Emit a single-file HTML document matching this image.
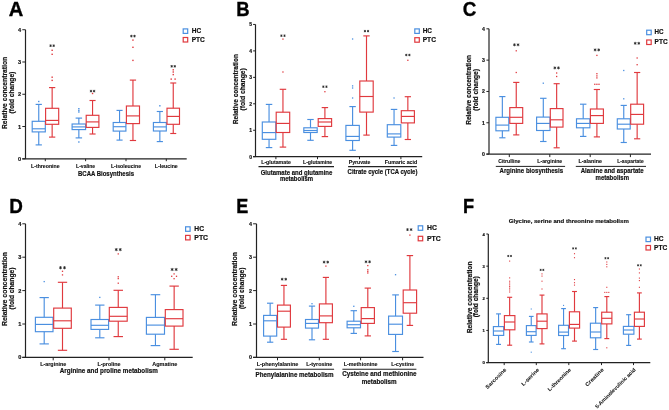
<!DOCTYPE html>
<html><head><meta charset="utf-8"><style>
html,body{margin:0;padding:0;background:#fff;}
svg{display:block;font-family:"Liberation Sans", sans-serif;will-change:transform;}
</style></head><body>
<svg width="669" height="410" viewBox="0 0 669 410">
<rect width="669" height="410" fill="#fff"/>
<text transform="translate(8.70 15.70) scale(0.988 1)" font-size="20.4" font-weight="bold" fill="#000" stroke="#000" stroke-width="0.35">A</text>
<line x1="25.50" y1="29.72" x2="25.50" y2="158.80" stroke="#222" stroke-width="1.2"/>
<line x1="22.30" y1="158.80" x2="25.50" y2="158.80" stroke="#222" stroke-width="1.0"/>
<text x="21.20" y="160.82" font-size="5.6" font-weight="bold" text-anchor="end" fill="#111" stroke="#111" stroke-width="0.18">0</text>
<line x1="22.30" y1="126.53" x2="25.50" y2="126.53" stroke="#222" stroke-width="1.0"/>
<text x="21.20" y="128.55" font-size="5.6" font-weight="bold" text-anchor="end" fill="#111" stroke="#111" stroke-width="0.18">1</text>
<line x1="22.30" y1="94.26" x2="25.50" y2="94.26" stroke="#222" stroke-width="1.0"/>
<text x="21.20" y="96.28" font-size="5.6" font-weight="bold" text-anchor="end" fill="#111" stroke="#111" stroke-width="0.18">2</text>
<line x1="22.30" y1="61.99" x2="25.50" y2="61.99" stroke="#222" stroke-width="1.0"/>
<text x="21.20" y="64.01" font-size="5.6" font-weight="bold" text-anchor="end" fill="#111" stroke="#111" stroke-width="0.18">3</text>
<line x1="22.30" y1="29.72" x2="25.50" y2="29.72" stroke="#222" stroke-width="1.0"/>
<text x="21.20" y="31.74" font-size="5.6" font-weight="bold" text-anchor="end" fill="#111" stroke="#111" stroke-width="0.18">4</text>
<line x1="22.30" y1="158.80" x2="186.70" y2="158.80" stroke="#222" stroke-width="1.2"/>
<line x1="45.30" y1="158.80" x2="45.30" y2="161.20" stroke="#222" stroke-width="1.0"/>
<line x1="85.60" y1="158.80" x2="85.60" y2="161.20" stroke="#222" stroke-width="1.0"/>
<line x1="126.00" y1="158.80" x2="126.00" y2="161.20" stroke="#222" stroke-width="1.0"/>
<line x1="166.30" y1="158.80" x2="166.30" y2="161.20" stroke="#222" stroke-width="1.0"/>
<line x1="38.75" y1="104.40" x2="38.75" y2="121.30" stroke="#4a8fe0" stroke-width="1.15"/>
<line x1="38.75" y1="131.90" x2="38.75" y2="144.90" stroke="#4a8fe0" stroke-width="1.15"/>
<line x1="35.61" y1="104.40" x2="41.89" y2="104.40" stroke="#4a8fe0" stroke-width="1.15"/>
<line x1="35.61" y1="144.90" x2="41.89" y2="144.90" stroke="#4a8fe0" stroke-width="1.15"/>
<rect x="32.20" y="121.30" width="13.10" height="10.60" fill="none" stroke="#4a8fe0" stroke-width="1.15"/>
<line x1="32.20" y1="128.80" x2="45.30" y2="128.80" stroke="#4a8fe0" stroke-width="1.15"/>
<rect x="38.05" y="100.80" width="1.40" height="1.40" fill="#4a8fe0"/>
<line x1="52.15" y1="87.60" x2="52.15" y2="108.30" stroke="#e0393e" stroke-width="1.15"/>
<line x1="52.15" y1="124.30" x2="52.15" y2="137.10" stroke="#e0393e" stroke-width="1.15"/>
<line x1="49.01" y1="87.60" x2="55.29" y2="87.60" stroke="#e0393e" stroke-width="1.15"/>
<line x1="49.01" y1="137.10" x2="55.29" y2="137.10" stroke="#e0393e" stroke-width="1.15"/>
<rect x="45.60" y="108.30" width="13.10" height="16.00" fill="none" stroke="#e0393e" stroke-width="1.15"/>
<line x1="45.60" y1="120.40" x2="58.70" y2="120.40" stroke="#e0393e" stroke-width="1.15"/>
<rect x="51.45" y="49.60" width="1.40" height="1.40" fill="#e0393e"/>
<rect x="51.45" y="53.60" width="1.40" height="1.40" fill="#e0393e"/>
<rect x="51.45" y="76.50" width="1.40" height="1.40" fill="#e0393e"/>
<rect x="51.45" y="79.70" width="1.40" height="1.40" fill="#e0393e"/>
<line x1="50.60" y1="44.40" x2="50.60" y2="47.00" stroke="#222" stroke-width="0.75"/>
<line x1="49.47" y1="45.05" x2="51.73" y2="46.35" stroke="#222" stroke-width="0.75"/>
<line x1="51.73" y1="45.05" x2="49.47" y2="46.35" stroke="#222" stroke-width="0.75"/>
<line x1="53.70" y1="44.40" x2="53.70" y2="47.00" stroke="#222" stroke-width="0.75"/>
<line x1="52.57" y1="45.05" x2="54.83" y2="46.35" stroke="#222" stroke-width="0.75"/>
<line x1="54.83" y1="45.05" x2="52.57" y2="46.35" stroke="#222" stroke-width="0.75"/>
<line x1="78.85" y1="118.10" x2="78.85" y2="124.00" stroke="#4a8fe0" stroke-width="1.15"/>
<line x1="78.85" y1="129.60" x2="78.85" y2="137.90" stroke="#4a8fe0" stroke-width="1.15"/>
<line x1="75.61" y1="118.10" x2="82.09" y2="118.10" stroke="#4a8fe0" stroke-width="1.15"/>
<line x1="75.61" y1="137.90" x2="82.09" y2="137.90" stroke="#4a8fe0" stroke-width="1.15"/>
<rect x="72.10" y="124.00" width="13.50" height="5.60" fill="none" stroke="#4a8fe0" stroke-width="1.15"/>
<line x1="72.10" y1="126.90" x2="85.60" y2="126.90" stroke="#4a8fe0" stroke-width="1.15"/>
<rect x="78.15" y="108.00" width="1.40" height="1.40" fill="#4a8fe0"/>
<rect x="78.15" y="109.80" width="1.40" height="1.40" fill="#4a8fe0"/>
<rect x="78.15" y="111.30" width="1.40" height="1.40" fill="#4a8fe0"/>
<rect x="78.15" y="141.30" width="1.40" height="1.40" fill="#4a8fe0"/>
<line x1="92.55" y1="100.50" x2="92.55" y2="115.30" stroke="#e0393e" stroke-width="1.15"/>
<line x1="92.55" y1="127.40" x2="92.55" y2="134.00" stroke="#e0393e" stroke-width="1.15"/>
<line x1="89.50" y1="100.50" x2="95.60" y2="100.50" stroke="#e0393e" stroke-width="1.15"/>
<line x1="89.50" y1="134.00" x2="95.60" y2="134.00" stroke="#e0393e" stroke-width="1.15"/>
<rect x="86.20" y="115.30" width="12.70" height="12.10" fill="none" stroke="#e0393e" stroke-width="1.15"/>
<line x1="86.20" y1="121.90" x2="98.90" y2="121.90" stroke="#e0393e" stroke-width="1.15"/>
<rect x="91.85" y="92.80" width="1.40" height="1.40" fill="#e0393e"/>
<line x1="91.00" y1="89.80" x2="91.00" y2="92.40" stroke="#222" stroke-width="0.75"/>
<line x1="89.87" y1="90.45" x2="92.13" y2="91.75" stroke="#222" stroke-width="0.75"/>
<line x1="92.13" y1="90.45" x2="89.87" y2="91.75" stroke="#222" stroke-width="0.75"/>
<line x1="94.10" y1="89.80" x2="94.10" y2="92.40" stroke="#222" stroke-width="0.75"/>
<line x1="92.97" y1="90.45" x2="95.23" y2="91.75" stroke="#222" stroke-width="0.75"/>
<line x1="95.23" y1="90.45" x2="92.97" y2="91.75" stroke="#222" stroke-width="0.75"/>
<line x1="119.55" y1="110.40" x2="119.55" y2="122.50" stroke="#4a8fe0" stroke-width="1.15"/>
<line x1="119.55" y1="131.10" x2="119.55" y2="140.10" stroke="#4a8fe0" stroke-width="1.15"/>
<line x1="116.50" y1="110.40" x2="122.60" y2="110.40" stroke="#4a8fe0" stroke-width="1.15"/>
<line x1="116.50" y1="140.10" x2="122.60" y2="140.10" stroke="#4a8fe0" stroke-width="1.15"/>
<rect x="113.20" y="122.50" width="12.70" height="8.60" fill="none" stroke="#4a8fe0" stroke-width="1.15"/>
<line x1="113.20" y1="126.70" x2="125.90" y2="126.70" stroke="#4a8fe0" stroke-width="1.15"/>
<line x1="132.95" y1="80.10" x2="132.95" y2="106.00" stroke="#e0393e" stroke-width="1.15"/>
<line x1="132.95" y1="123.60" x2="132.95" y2="140.50" stroke="#e0393e" stroke-width="1.15"/>
<line x1="129.81" y1="80.10" x2="136.09" y2="80.10" stroke="#e0393e" stroke-width="1.15"/>
<line x1="129.81" y1="140.50" x2="136.09" y2="140.50" stroke="#e0393e" stroke-width="1.15"/>
<rect x="126.40" y="106.00" width="13.10" height="17.60" fill="none" stroke="#e0393e" stroke-width="1.15"/>
<line x1="126.40" y1="115.90" x2="139.50" y2="115.90" stroke="#e0393e" stroke-width="1.15"/>
<rect x="132.25" y="39.40" width="1.40" height="1.40" fill="#e0393e"/>
<rect x="132.25" y="46.60" width="1.40" height="1.40" fill="#e0393e"/>
<rect x="132.25" y="59.70" width="1.40" height="1.40" fill="#e0393e"/>
<line x1="131.40" y1="34.80" x2="131.40" y2="37.40" stroke="#222" stroke-width="0.75"/>
<line x1="130.27" y1="35.45" x2="132.53" y2="36.75" stroke="#222" stroke-width="0.75"/>
<line x1="132.53" y1="35.45" x2="130.27" y2="36.75" stroke="#222" stroke-width="0.75"/>
<line x1="134.50" y1="34.80" x2="134.50" y2="37.40" stroke="#222" stroke-width="0.75"/>
<line x1="133.37" y1="35.45" x2="135.63" y2="36.75" stroke="#222" stroke-width="0.75"/>
<line x1="135.63" y1="35.45" x2="133.37" y2="36.75" stroke="#222" stroke-width="0.75"/>
<line x1="159.85" y1="111.50" x2="159.85" y2="122.50" stroke="#4a8fe0" stroke-width="1.15"/>
<line x1="159.85" y1="131.00" x2="159.85" y2="141.60" stroke="#4a8fe0" stroke-width="1.15"/>
<line x1="156.75" y1="111.50" x2="162.95" y2="111.50" stroke="#4a8fe0" stroke-width="1.15"/>
<line x1="156.75" y1="141.60" x2="162.95" y2="141.60" stroke="#4a8fe0" stroke-width="1.15"/>
<rect x="153.40" y="122.50" width="12.90" height="8.50" fill="none" stroke="#4a8fe0" stroke-width="1.15"/>
<line x1="153.40" y1="126.90" x2="166.30" y2="126.90" stroke="#4a8fe0" stroke-width="1.15"/>
<rect x="159.15" y="105.10" width="1.40" height="1.40" fill="#4a8fe0"/>
<line x1="173.25" y1="83.00" x2="173.25" y2="108.20" stroke="#e0393e" stroke-width="1.15"/>
<line x1="173.25" y1="124.30" x2="173.25" y2="133.50" stroke="#e0393e" stroke-width="1.15"/>
<line x1="170.25" y1="83.00" x2="176.25" y2="83.00" stroke="#e0393e" stroke-width="1.15"/>
<line x1="170.25" y1="133.50" x2="176.25" y2="133.50" stroke="#e0393e" stroke-width="1.15"/>
<rect x="167.00" y="108.20" width="12.50" height="16.10" fill="none" stroke="#e0393e" stroke-width="1.15"/>
<line x1="167.00" y1="116.40" x2="179.50" y2="116.40" stroke="#e0393e" stroke-width="1.15"/>
<rect x="172.55" y="69.10" width="1.40" height="1.40" fill="#e0393e"/>
<rect x="172.55" y="71.30" width="1.40" height="1.40" fill="#e0393e"/>
<rect x="172.55" y="73.90" width="1.40" height="1.40" fill="#e0393e"/>
<rect x="170.50" y="78.40" width="1.40" height="1.40" fill="#e0393e"/>
<rect x="174.40" y="78.40" width="1.40" height="1.40" fill="#e0393e"/>
<line x1="171.70" y1="65.00" x2="171.70" y2="67.60" stroke="#222" stroke-width="0.75"/>
<line x1="170.57" y1="65.65" x2="172.83" y2="66.95" stroke="#222" stroke-width="0.75"/>
<line x1="172.83" y1="65.65" x2="170.57" y2="66.95" stroke="#222" stroke-width="0.75"/>
<line x1="174.80" y1="65.00" x2="174.80" y2="67.60" stroke="#222" stroke-width="0.75"/>
<line x1="173.67" y1="65.65" x2="175.93" y2="66.95" stroke="#222" stroke-width="0.75"/>
<line x1="175.93" y1="65.65" x2="173.67" y2="66.95" stroke="#222" stroke-width="0.75"/>
<rect x="183.20" y="28.90" width="4.50" height="4.50" fill="none" stroke="#4a8fe0" stroke-width="1.2"/>
<rect x="183.20" y="37.50" width="4.50" height="4.50" fill="none" stroke="#e0393e" stroke-width="1.2"/>
<text x="191.70" y="32.80" font-size="6.6" font-weight="bold" text-anchor="start" fill="#111" textLength="9.40" lengthAdjust="spacingAndGlyphs" stroke="#111" stroke-width="0.18">HC</text>
<text x="191.70" y="41.50" font-size="6.6" font-weight="bold" text-anchor="start" fill="#111" textLength="13.20" lengthAdjust="spacingAndGlyphs" stroke="#111" stroke-width="0.18">PTC</text>
<text x="45.30" y="167.60" font-size="5.6" font-weight="bold" text-anchor="middle" fill="#111" textLength="28.50" lengthAdjust="spacingAndGlyphs" stroke="#111" stroke-width="0.12">L-threonine</text>
<text x="85.60" y="167.60" font-size="5.6" font-weight="bold" text-anchor="middle" fill="#111" textLength="19.10" lengthAdjust="spacingAndGlyphs" stroke="#111" stroke-width="0.12">L-valine</text>
<text x="126.00" y="167.60" font-size="5.6" font-weight="bold" text-anchor="middle" fill="#111" textLength="30.20" lengthAdjust="spacingAndGlyphs" stroke="#111" stroke-width="0.12">L-isoleucine</text>
<text x="166.30" y="167.60" font-size="5.6" font-weight="bold" text-anchor="middle" fill="#111" textLength="22.90" lengthAdjust="spacingAndGlyphs" stroke="#111" stroke-width="0.12">L-leucine</text>
<text x="106.00" y="176.00" font-size="6.7" font-weight="bold" text-anchor="middle" fill="#111" textLength="56.00" lengthAdjust="spacingAndGlyphs" stroke="#111" stroke-width="0.18">BCAA Biosynthesis</text>
<text x="7.00" y="92.95" font-size="6.5" font-weight="bold" text-anchor="middle" fill="#111" textLength="72.10" lengthAdjust="spacingAndGlyphs" transform="rotate(-90 7.00 92.95)" stroke="#111" stroke-width="0.18">Relative concentration</text>
<text x="14.50" y="92.55" font-size="6.5" font-weight="bold" text-anchor="middle" fill="#111" textLength="41.70" lengthAdjust="spacingAndGlyphs" transform="rotate(-90 14.50 92.55)" stroke="#111" stroke-width="0.18">(fold change)</text>
<text transform="translate(236.20 15.70) scale(0.908 1)" font-size="20.4" font-weight="bold" fill="#000" stroke="#000" stroke-width="0.35">B</text>
<line x1="255.50" y1="24.45" x2="255.50" y2="156.70" stroke="#222" stroke-width="1.2"/>
<line x1="253.10" y1="156.70" x2="255.50" y2="156.70" stroke="#222" stroke-width="1.0"/>
<text x="252.10" y="158.50" font-size="5.0" font-weight="bold" text-anchor="end" fill="#111" stroke="#111" stroke-width="0.18">0</text>
<line x1="253.10" y1="130.25" x2="255.50" y2="130.25" stroke="#222" stroke-width="1.0"/>
<text x="252.10" y="132.05" font-size="5.0" font-weight="bold" text-anchor="end" fill="#111" stroke="#111" stroke-width="0.18">1</text>
<line x1="253.10" y1="103.80" x2="255.50" y2="103.80" stroke="#222" stroke-width="1.0"/>
<text x="252.10" y="105.60" font-size="5.0" font-weight="bold" text-anchor="end" fill="#111" stroke="#111" stroke-width="0.18">2</text>
<line x1="253.10" y1="77.35" x2="255.50" y2="77.35" stroke="#222" stroke-width="1.0"/>
<text x="252.10" y="79.15" font-size="5.0" font-weight="bold" text-anchor="end" fill="#111" stroke="#111" stroke-width="0.18">3</text>
<line x1="253.10" y1="50.90" x2="255.50" y2="50.90" stroke="#222" stroke-width="1.0"/>
<text x="252.10" y="52.70" font-size="5.0" font-weight="bold" text-anchor="end" fill="#111" stroke="#111" stroke-width="0.18">4</text>
<line x1="253.10" y1="24.45" x2="255.50" y2="24.45" stroke="#222" stroke-width="1.0"/>
<text x="252.10" y="26.25" font-size="5.0" font-weight="bold" text-anchor="end" fill="#111" stroke="#111" stroke-width="0.18">5</text>
<line x1="253.10" y1="156.70" x2="422.20" y2="156.70" stroke="#222" stroke-width="1.2"/>
<line x1="275.90" y1="156.70" x2="275.90" y2="159.20" stroke="#222" stroke-width="1.0"/>
<line x1="317.50" y1="156.70" x2="317.50" y2="159.20" stroke="#222" stroke-width="1.0"/>
<line x1="359.50" y1="156.70" x2="359.50" y2="159.20" stroke="#222" stroke-width="1.0"/>
<line x1="400.90" y1="156.70" x2="400.90" y2="159.20" stroke="#222" stroke-width="1.0"/>
<line x1="269.05" y1="104.40" x2="269.05" y2="122.00" stroke="#4a8fe0" stroke-width="1.15"/>
<line x1="269.05" y1="139.30" x2="269.05" y2="147.60" stroke="#4a8fe0" stroke-width="1.15"/>
<line x1="265.81" y1="104.40" x2="272.29" y2="104.40" stroke="#4a8fe0" stroke-width="1.15"/>
<line x1="265.81" y1="147.60" x2="272.29" y2="147.60" stroke="#4a8fe0" stroke-width="1.15"/>
<rect x="262.30" y="122.00" width="13.50" height="17.30" fill="none" stroke="#4a8fe0" stroke-width="1.15"/>
<line x1="262.30" y1="132.60" x2="275.80" y2="132.60" stroke="#4a8fe0" stroke-width="1.15"/>
<line x1="282.95" y1="89.30" x2="282.95" y2="112.20" stroke="#e0393e" stroke-width="1.15"/>
<line x1="282.95" y1="132.50" x2="282.95" y2="147.10" stroke="#e0393e" stroke-width="1.15"/>
<line x1="279.71" y1="89.30" x2="286.19" y2="89.30" stroke="#e0393e" stroke-width="1.15"/>
<line x1="279.71" y1="147.10" x2="286.19" y2="147.10" stroke="#e0393e" stroke-width="1.15"/>
<rect x="276.20" y="112.20" width="13.50" height="20.30" fill="none" stroke="#e0393e" stroke-width="1.15"/>
<line x1="276.20" y1="123.40" x2="289.70" y2="123.40" stroke="#e0393e" stroke-width="1.15"/>
<rect x="282.30" y="38.45" width="1.30" height="1.30" fill="#e0393e"/>
<rect x="282.30" y="71.35" width="1.30" height="1.30" fill="#e0393e"/>
<line x1="281.40" y1="34.50" x2="281.40" y2="36.90" stroke="#222" stroke-width="0.75"/>
<line x1="280.36" y1="35.10" x2="282.44" y2="36.30" stroke="#222" stroke-width="0.75"/>
<line x1="282.44" y1="35.10" x2="280.36" y2="36.30" stroke="#222" stroke-width="0.75"/>
<line x1="284.50" y1="34.50" x2="284.50" y2="36.90" stroke="#222" stroke-width="0.75"/>
<line x1="283.46" y1="35.10" x2="285.54" y2="36.30" stroke="#222" stroke-width="0.75"/>
<line x1="285.54" y1="35.10" x2="283.46" y2="36.30" stroke="#222" stroke-width="0.75"/>
<line x1="310.50" y1="119.50" x2="310.50" y2="127.80" stroke="#4a8fe0" stroke-width="1.15"/>
<line x1="310.50" y1="132.50" x2="310.50" y2="140.30" stroke="#4a8fe0" stroke-width="1.15"/>
<line x1="307.28" y1="119.50" x2="313.72" y2="119.50" stroke="#4a8fe0" stroke-width="1.15"/>
<line x1="307.28" y1="140.30" x2="313.72" y2="140.30" stroke="#4a8fe0" stroke-width="1.15"/>
<rect x="303.80" y="127.80" width="13.40" height="4.70" fill="none" stroke="#4a8fe0" stroke-width="1.15"/>
<line x1="303.80" y1="130.50" x2="317.20" y2="130.50" stroke="#4a8fe0" stroke-width="1.15"/>
<line x1="324.90" y1="107.60" x2="324.90" y2="118.60" stroke="#e0393e" stroke-width="1.15"/>
<line x1="324.90" y1="126.40" x2="324.90" y2="136.60" stroke="#e0393e" stroke-width="1.15"/>
<line x1="321.68" y1="107.60" x2="328.12" y2="107.60" stroke="#e0393e" stroke-width="1.15"/>
<line x1="321.68" y1="136.60" x2="328.12" y2="136.60" stroke="#e0393e" stroke-width="1.15"/>
<rect x="318.20" y="118.60" width="13.40" height="7.80" fill="none" stroke="#e0393e" stroke-width="1.15"/>
<line x1="318.20" y1="122.00" x2="331.60" y2="122.00" stroke="#e0393e" stroke-width="1.15"/>
<rect x="324.25" y="91.05" width="1.30" height="1.30" fill="#e0393e"/>
<line x1="323.35" y1="85.50" x2="323.35" y2="87.90" stroke="#222" stroke-width="0.75"/>
<line x1="322.31" y1="86.10" x2="324.39" y2="87.30" stroke="#222" stroke-width="0.75"/>
<line x1="324.39" y1="86.10" x2="322.31" y2="87.30" stroke="#222" stroke-width="0.75"/>
<line x1="326.45" y1="85.50" x2="326.45" y2="87.90" stroke="#222" stroke-width="0.75"/>
<line x1="325.41" y1="86.10" x2="327.49" y2="87.30" stroke="#222" stroke-width="0.75"/>
<line x1="327.49" y1="86.10" x2="325.41" y2="87.30" stroke="#222" stroke-width="0.75"/>
<line x1="352.60" y1="106.60" x2="352.60" y2="125.40" stroke="#4a8fe0" stroke-width="1.15"/>
<line x1="352.60" y1="140.50" x2="352.60" y2="150.30" stroke="#4a8fe0" stroke-width="1.15"/>
<line x1="349.38" y1="106.60" x2="355.82" y2="106.60" stroke="#4a8fe0" stroke-width="1.15"/>
<line x1="349.38" y1="150.30" x2="355.82" y2="150.30" stroke="#4a8fe0" stroke-width="1.15"/>
<rect x="345.90" y="125.40" width="13.40" height="15.10" fill="none" stroke="#4a8fe0" stroke-width="1.15"/>
<line x1="345.90" y1="136.40" x2="359.30" y2="136.40" stroke="#4a8fe0" stroke-width="1.15"/>
<rect x="351.95" y="38.35" width="1.30" height="1.30" fill="#4a8fe0"/>
<rect x="351.95" y="85.25" width="1.30" height="1.30" fill="#4a8fe0"/>
<rect x="351.95" y="87.35" width="1.30" height="1.30" fill="#4a8fe0"/>
<rect x="351.95" y="97.35" width="1.30" height="1.30" fill="#4a8fe0"/>
<line x1="366.50" y1="35.90" x2="366.50" y2="81.00" stroke="#e0393e" stroke-width="1.15"/>
<line x1="366.50" y1="112.10" x2="366.50" y2="135.10" stroke="#e0393e" stroke-width="1.15"/>
<line x1="363.28" y1="35.90" x2="369.72" y2="35.90" stroke="#e0393e" stroke-width="1.15"/>
<line x1="363.28" y1="135.10" x2="369.72" y2="135.10" stroke="#e0393e" stroke-width="1.15"/>
<rect x="359.80" y="81.00" width="13.40" height="31.10" fill="none" stroke="#e0393e" stroke-width="1.15"/>
<line x1="359.80" y1="96.50" x2="373.20" y2="96.50" stroke="#e0393e" stroke-width="1.15"/>
<line x1="364.95" y1="29.90" x2="364.95" y2="32.30" stroke="#222" stroke-width="0.75"/>
<line x1="363.91" y1="30.50" x2="365.99" y2="31.70" stroke="#222" stroke-width="0.75"/>
<line x1="365.99" y1="30.50" x2="363.91" y2="31.70" stroke="#222" stroke-width="0.75"/>
<line x1="368.05" y1="29.90" x2="368.05" y2="32.30" stroke="#222" stroke-width="0.75"/>
<line x1="367.01" y1="30.50" x2="369.09" y2="31.70" stroke="#222" stroke-width="0.75"/>
<line x1="369.09" y1="30.50" x2="367.01" y2="31.70" stroke="#222" stroke-width="0.75"/>
<line x1="394.05" y1="109.40" x2="394.05" y2="124.70" stroke="#4a8fe0" stroke-width="1.15"/>
<line x1="394.05" y1="137.10" x2="394.05" y2="145.40" stroke="#4a8fe0" stroke-width="1.15"/>
<line x1="390.81" y1="109.40" x2="397.29" y2="109.40" stroke="#4a8fe0" stroke-width="1.15"/>
<line x1="390.81" y1="145.40" x2="397.29" y2="145.40" stroke="#4a8fe0" stroke-width="1.15"/>
<rect x="387.30" y="124.70" width="13.50" height="12.40" fill="none" stroke="#4a8fe0" stroke-width="1.15"/>
<line x1="387.30" y1="133.90" x2="400.80" y2="133.90" stroke="#4a8fe0" stroke-width="1.15"/>
<rect x="393.40" y="97.35" width="1.30" height="1.30" fill="#4a8fe0"/>
<line x1="407.85" y1="96.70" x2="407.85" y2="110.70" stroke="#e0393e" stroke-width="1.15"/>
<line x1="407.85" y1="122.90" x2="407.85" y2="139.50" stroke="#e0393e" stroke-width="1.15"/>
<line x1="404.71" y1="96.70" x2="410.99" y2="96.70" stroke="#e0393e" stroke-width="1.15"/>
<line x1="404.71" y1="139.50" x2="410.99" y2="139.50" stroke="#e0393e" stroke-width="1.15"/>
<rect x="401.30" y="110.70" width="13.10" height="12.20" fill="none" stroke="#e0393e" stroke-width="1.15"/>
<line x1="401.30" y1="116.40" x2="414.40" y2="116.40" stroke="#e0393e" stroke-width="1.15"/>
<rect x="407.20" y="59.65" width="1.30" height="1.30" fill="#e0393e"/>
<line x1="406.30" y1="53.80" x2="406.30" y2="56.20" stroke="#222" stroke-width="0.75"/>
<line x1="405.26" y1="54.40" x2="407.34" y2="55.60" stroke="#222" stroke-width="0.75"/>
<line x1="407.34" y1="54.40" x2="405.26" y2="55.60" stroke="#222" stroke-width="0.75"/>
<line x1="409.40" y1="53.80" x2="409.40" y2="56.20" stroke="#222" stroke-width="0.75"/>
<line x1="408.36" y1="54.40" x2="410.44" y2="55.60" stroke="#222" stroke-width="0.75"/>
<line x1="410.44" y1="54.40" x2="408.36" y2="55.60" stroke="#222" stroke-width="0.75"/>
<rect x="414.80" y="28.90" width="4.50" height="4.50" fill="none" stroke="#4a8fe0" stroke-width="1.2"/>
<rect x="414.80" y="37.70" width="4.50" height="4.50" fill="none" stroke="#e0393e" stroke-width="1.2"/>
<text x="422.70" y="32.70" font-size="6.6" font-weight="bold" text-anchor="start" fill="#111" textLength="9.30" lengthAdjust="spacingAndGlyphs" stroke="#111" stroke-width="0.18">HC</text>
<text x="422.70" y="41.60" font-size="6.6" font-weight="bold" text-anchor="start" fill="#111" textLength="13.30" lengthAdjust="spacingAndGlyphs" stroke="#111" stroke-width="0.18">PTC</text>
<text x="276.00" y="163.80" font-size="5.6" font-weight="bold" text-anchor="middle" fill="#111" textLength="29.60" lengthAdjust="spacingAndGlyphs" stroke="#111" stroke-width="0.12">L-glutamate</text>
<text x="317.60" y="163.80" font-size="5.6" font-weight="bold" text-anchor="middle" fill="#111" textLength="29.20" lengthAdjust="spacingAndGlyphs" stroke="#111" stroke-width="0.12">L-glutamine</text>
<text x="359.60" y="163.80" font-size="5.6" font-weight="bold" text-anchor="middle" fill="#111" textLength="21.60" lengthAdjust="spacingAndGlyphs" stroke="#111" stroke-width="0.12">Pyruvate</text>
<text x="401.00" y="163.80" font-size="5.6" font-weight="bold" text-anchor="middle" fill="#111" textLength="32.30" lengthAdjust="spacingAndGlyphs" stroke="#111" stroke-width="0.12">Fumaric acid</text>
<line x1="258.50" y1="166.60" x2="334.00" y2="166.60" stroke="#222" stroke-width="1.1"/>
<line x1="348.10" y1="166.60" x2="416.80" y2="166.60" stroke="#222" stroke-width="1.1"/>
<text x="296.55" y="174.70" font-size="6.7" font-weight="bold" text-anchor="middle" fill="#111" textLength="71.70" lengthAdjust="spacingAndGlyphs" stroke="#111" stroke-width="0.18">Glutamate and glutamine</text>
<text x="296.50" y="181.00" font-size="6.7" font-weight="bold" text-anchor="middle" fill="#111" textLength="33.20" lengthAdjust="spacingAndGlyphs" stroke="#111" stroke-width="0.18">metabolism</text>
<text x="382.50" y="174.00" font-size="6.7" font-weight="bold" text-anchor="middle" fill="#111" textLength="69.80" lengthAdjust="spacingAndGlyphs" stroke="#111" stroke-width="0.18">Citrate cycle (TCA cycle)</text>
<text x="237.90" y="89.15" font-size="6.5" font-weight="bold" text-anchor="middle" fill="#111" textLength="70.10" lengthAdjust="spacingAndGlyphs" transform="rotate(-90 237.90 89.15)" stroke="#111" stroke-width="0.18">Relative concentration</text>
<text x="245.30" y="89.40" font-size="6.5" font-weight="bold" text-anchor="middle" fill="#111" textLength="42.40" lengthAdjust="spacingAndGlyphs" transform="rotate(-90 245.30 89.40)" stroke="#111" stroke-width="0.18">(fold change)</text>
<text transform="translate(462.65 15.70) scale(0.921 1)" font-size="20.4" font-weight="bold" fill="#000" stroke="#000" stroke-width="0.35">C</text>
<line x1="489.00" y1="28.82" x2="489.00" y2="154.10" stroke="#222" stroke-width="1.2"/>
<line x1="486.40" y1="154.10" x2="489.00" y2="154.10" stroke="#222" stroke-width="1.0"/>
<text x="485.00" y="155.97" font-size="5.2" font-weight="bold" text-anchor="end" fill="#111" stroke="#111" stroke-width="0.18">0</text>
<line x1="486.40" y1="122.78" x2="489.00" y2="122.78" stroke="#222" stroke-width="1.0"/>
<text x="485.00" y="124.65" font-size="5.2" font-weight="bold" text-anchor="end" fill="#111" stroke="#111" stroke-width="0.18">1</text>
<line x1="486.40" y1="91.46" x2="489.00" y2="91.46" stroke="#222" stroke-width="1.0"/>
<text x="485.00" y="93.33" font-size="5.2" font-weight="bold" text-anchor="end" fill="#111" stroke="#111" stroke-width="0.18">2</text>
<line x1="486.40" y1="60.14" x2="489.00" y2="60.14" stroke="#222" stroke-width="1.0"/>
<text x="485.00" y="62.01" font-size="5.2" font-weight="bold" text-anchor="end" fill="#111" stroke="#111" stroke-width="0.18">3</text>
<line x1="486.40" y1="28.82" x2="489.00" y2="28.82" stroke="#222" stroke-width="1.0"/>
<text x="485.00" y="30.69" font-size="5.2" font-weight="bold" text-anchor="end" fill="#111" stroke="#111" stroke-width="0.18">4</text>
<line x1="486.40" y1="154.10" x2="651.00" y2="154.10" stroke="#222" stroke-width="1.2"/>
<line x1="509.30" y1="154.10" x2="509.30" y2="157.10" stroke="#222" stroke-width="1.0"/>
<line x1="549.80" y1="154.10" x2="549.80" y2="157.10" stroke="#222" stroke-width="1.0"/>
<line x1="590.20" y1="154.10" x2="590.20" y2="157.10" stroke="#222" stroke-width="1.0"/>
<line x1="630.40" y1="154.10" x2="630.40" y2="157.10" stroke="#222" stroke-width="1.0"/>
<line x1="502.35" y1="96.60" x2="502.35" y2="117.30" stroke="#4a8fe0" stroke-width="1.15"/>
<line x1="502.35" y1="130.80" x2="502.35" y2="137.80" stroke="#4a8fe0" stroke-width="1.15"/>
<line x1="499.25" y1="96.60" x2="505.45" y2="96.60" stroke="#4a8fe0" stroke-width="1.15"/>
<line x1="499.25" y1="137.80" x2="505.45" y2="137.80" stroke="#4a8fe0" stroke-width="1.15"/>
<rect x="495.90" y="117.30" width="12.90" height="13.50" fill="none" stroke="#4a8fe0" stroke-width="1.15"/>
<line x1="495.90" y1="125.10" x2="508.80" y2="125.10" stroke="#4a8fe0" stroke-width="1.15"/>
<line x1="516.25" y1="82.40" x2="516.25" y2="107.60" stroke="#e0393e" stroke-width="1.15"/>
<line x1="516.25" y1="123.40" x2="516.25" y2="134.90" stroke="#e0393e" stroke-width="1.15"/>
<line x1="513.15" y1="82.40" x2="519.35" y2="82.40" stroke="#e0393e" stroke-width="1.15"/>
<line x1="513.15" y1="134.90" x2="519.35" y2="134.90" stroke="#e0393e" stroke-width="1.15"/>
<rect x="509.80" y="107.60" width="12.90" height="15.80" fill="none" stroke="#e0393e" stroke-width="1.15"/>
<line x1="509.80" y1="117.30" x2="522.70" y2="117.30" stroke="#e0393e" stroke-width="1.15"/>
<rect x="515.60" y="50.15" width="1.30" height="1.30" fill="#e0393e"/>
<rect x="515.60" y="71.85" width="1.30" height="1.30" fill="#e0393e"/>
<line x1="514.45" y1="43.35" x2="514.45" y2="46.25" stroke="#222" stroke-width="0.8"/>
<line x1="513.19" y1="44.08" x2="515.71" y2="45.53" stroke="#222" stroke-width="0.8"/>
<line x1="515.71" y1="44.08" x2="513.19" y2="45.53" stroke="#222" stroke-width="0.8"/>
<line x1="518.05" y1="43.35" x2="518.05" y2="46.25" stroke="#222" stroke-width="0.8"/>
<line x1="516.79" y1="44.08" x2="519.31" y2="45.53" stroke="#222" stroke-width="0.8"/>
<line x1="519.31" y1="44.08" x2="516.79" y2="45.53" stroke="#222" stroke-width="0.8"/>
<line x1="543.30" y1="98.30" x2="543.30" y2="117.10" stroke="#4a8fe0" stroke-width="1.15"/>
<line x1="543.30" y1="130.50" x2="543.30" y2="141.50" stroke="#4a8fe0" stroke-width="1.15"/>
<line x1="540.08" y1="98.30" x2="546.52" y2="98.30" stroke="#4a8fe0" stroke-width="1.15"/>
<line x1="540.08" y1="141.50" x2="546.52" y2="141.50" stroke="#4a8fe0" stroke-width="1.15"/>
<rect x="536.60" y="117.10" width="13.40" height="13.40" fill="none" stroke="#4a8fe0" stroke-width="1.15"/>
<line x1="536.60" y1="123.40" x2="550.00" y2="123.40" stroke="#4a8fe0" stroke-width="1.15"/>
<rect x="542.65" y="82.55" width="1.30" height="1.30" fill="#4a8fe0"/>
<line x1="556.65" y1="83.70" x2="556.65" y2="108.60" stroke="#e0393e" stroke-width="1.15"/>
<line x1="556.65" y1="127.10" x2="556.65" y2="147.80" stroke="#e0393e" stroke-width="1.15"/>
<line x1="553.60" y1="83.70" x2="559.70" y2="83.70" stroke="#e0393e" stroke-width="1.15"/>
<line x1="553.60" y1="147.80" x2="559.70" y2="147.80" stroke="#e0393e" stroke-width="1.15"/>
<rect x="550.30" y="108.60" width="12.70" height="18.50" fill="none" stroke="#e0393e" stroke-width="1.15"/>
<line x1="550.30" y1="119.80" x2="563.00" y2="119.80" stroke="#e0393e" stroke-width="1.15"/>
<rect x="556.00" y="72.35" width="1.30" height="1.30" fill="#e0393e"/>
<rect x="556.00" y="75.85" width="1.30" height="1.30" fill="#e0393e"/>
<line x1="554.85" y1="66.45" x2="554.85" y2="69.35" stroke="#222" stroke-width="0.8"/>
<line x1="553.59" y1="67.17" x2="556.11" y2="68.62" stroke="#222" stroke-width="0.8"/>
<line x1="556.11" y1="67.17" x2="553.59" y2="68.62" stroke="#222" stroke-width="0.8"/>
<line x1="558.45" y1="66.45" x2="558.45" y2="69.35" stroke="#222" stroke-width="0.8"/>
<line x1="557.19" y1="67.17" x2="559.71" y2="68.62" stroke="#222" stroke-width="0.8"/>
<line x1="559.71" y1="67.17" x2="557.19" y2="68.62" stroke="#222" stroke-width="0.8"/>
<line x1="583.20" y1="104.20" x2="583.20" y2="118.80" stroke="#4a8fe0" stroke-width="1.15"/>
<line x1="583.20" y1="127.80" x2="583.20" y2="136.40" stroke="#4a8fe0" stroke-width="1.15"/>
<line x1="579.98" y1="104.20" x2="586.42" y2="104.20" stroke="#4a8fe0" stroke-width="1.15"/>
<line x1="579.98" y1="136.40" x2="586.42" y2="136.40" stroke="#4a8fe0" stroke-width="1.15"/>
<rect x="576.50" y="118.80" width="13.40" height="9.00" fill="none" stroke="#4a8fe0" stroke-width="1.15"/>
<line x1="576.50" y1="123.40" x2="589.90" y2="123.40" stroke="#4a8fe0" stroke-width="1.15"/>
<line x1="596.90" y1="89.50" x2="596.90" y2="109.00" stroke="#e0393e" stroke-width="1.15"/>
<line x1="596.90" y1="123.40" x2="596.90" y2="136.90" stroke="#e0393e" stroke-width="1.15"/>
<line x1="593.78" y1="89.50" x2="600.02" y2="89.50" stroke="#e0393e" stroke-width="1.15"/>
<line x1="593.78" y1="136.90" x2="600.02" y2="136.90" stroke="#e0393e" stroke-width="1.15"/>
<rect x="590.40" y="109.00" width="13.00" height="14.40" fill="none" stroke="#e0393e" stroke-width="1.15"/>
<line x1="590.40" y1="115.60" x2="603.40" y2="115.60" stroke="#e0393e" stroke-width="1.15"/>
<rect x="596.25" y="54.75" width="1.30" height="1.30" fill="#e0393e"/>
<rect x="596.25" y="73.05" width="1.30" height="1.30" fill="#e0393e"/>
<rect x="596.25" y="75.25" width="1.30" height="1.30" fill="#e0393e"/>
<rect x="596.25" y="77.25" width="1.30" height="1.30" fill="#e0393e"/>
<rect x="594.15" y="83.65" width="1.30" height="1.30" fill="#e0393e"/>
<rect x="596.25" y="83.65" width="1.30" height="1.30" fill="#e0393e"/>
<rect x="598.35" y="83.65" width="1.30" height="1.30" fill="#e0393e"/>
<line x1="595.10" y1="48.45" x2="595.10" y2="51.35" stroke="#222" stroke-width="0.8"/>
<line x1="593.84" y1="49.17" x2="596.36" y2="50.62" stroke="#222" stroke-width="0.8"/>
<line x1="596.36" y1="49.17" x2="593.84" y2="50.62" stroke="#222" stroke-width="0.8"/>
<line x1="598.70" y1="48.45" x2="598.70" y2="51.35" stroke="#222" stroke-width="0.8"/>
<line x1="597.44" y1="49.17" x2="599.96" y2="50.62" stroke="#222" stroke-width="0.8"/>
<line x1="599.96" y1="49.17" x2="597.44" y2="50.62" stroke="#222" stroke-width="0.8"/>
<line x1="623.75" y1="105.40" x2="623.75" y2="118.80" stroke="#4a8fe0" stroke-width="1.15"/>
<line x1="623.75" y1="129.00" x2="623.75" y2="142.50" stroke="#4a8fe0" stroke-width="1.15"/>
<line x1="620.65" y1="105.40" x2="626.85" y2="105.40" stroke="#4a8fe0" stroke-width="1.15"/>
<line x1="620.65" y1="142.50" x2="626.85" y2="142.50" stroke="#4a8fe0" stroke-width="1.15"/>
<rect x="617.30" y="118.80" width="12.90" height="10.20" fill="none" stroke="#4a8fe0" stroke-width="1.15"/>
<line x1="617.30" y1="124.20" x2="630.20" y2="124.20" stroke="#4a8fe0" stroke-width="1.15"/>
<rect x="623.10" y="69.85" width="1.30" height="1.30" fill="#4a8fe0"/>
<rect x="623.10" y="98.15" width="1.30" height="1.30" fill="#4a8fe0"/>
<line x1="637.15" y1="72.50" x2="637.15" y2="104.20" stroke="#e0393e" stroke-width="1.15"/>
<line x1="637.15" y1="124.20" x2="637.15" y2="138.80" stroke="#e0393e" stroke-width="1.15"/>
<line x1="634.05" y1="72.50" x2="640.25" y2="72.50" stroke="#e0393e" stroke-width="1.15"/>
<line x1="634.05" y1="138.80" x2="640.25" y2="138.80" stroke="#e0393e" stroke-width="1.15"/>
<rect x="630.70" y="104.20" width="12.90" height="20.00" fill="none" stroke="#e0393e" stroke-width="1.15"/>
<line x1="630.70" y1="114.40" x2="643.60" y2="114.40" stroke="#e0393e" stroke-width="1.15"/>
<rect x="636.50" y="57.35" width="1.30" height="1.30" fill="#e0393e"/>
<rect x="636.50" y="64.05" width="1.30" height="1.30" fill="#e0393e"/>
<line x1="635.20" y1="41.85" x2="635.20" y2="44.75" stroke="#222" stroke-width="0.8"/>
<line x1="633.94" y1="42.58" x2="636.46" y2="44.03" stroke="#222" stroke-width="0.8"/>
<line x1="636.46" y1="42.58" x2="633.94" y2="44.03" stroke="#222" stroke-width="0.8"/>
<line x1="638.80" y1="41.85" x2="638.80" y2="44.75" stroke="#222" stroke-width="0.8"/>
<line x1="637.54" y1="42.58" x2="640.06" y2="44.03" stroke="#222" stroke-width="0.8"/>
<line x1="640.06" y1="42.58" x2="637.54" y2="44.03" stroke="#222" stroke-width="0.8"/>
<rect x="646.70" y="30.20" width="4.50" height="4.50" fill="none" stroke="#4a8fe0" stroke-width="1.2"/>
<rect x="646.70" y="40.00" width="4.50" height="4.50" fill="none" stroke="#e0393e" stroke-width="1.2"/>
<text x="654.60" y="34.00" font-size="6.6" font-weight="bold" text-anchor="start" fill="#111" textLength="9.00" lengthAdjust="spacingAndGlyphs" stroke="#111" stroke-width="0.18">HC</text>
<text x="654.60" y="43.90" font-size="6.6" font-weight="bold" text-anchor="start" fill="#111" textLength="13.00" lengthAdjust="spacingAndGlyphs" stroke="#111" stroke-width="0.18">PTC</text>
<text x="509.30" y="163.20" font-size="5.6" font-weight="bold" text-anchor="middle" fill="#111" textLength="22.10" lengthAdjust="spacingAndGlyphs" stroke="#111" stroke-width="0.12">Citrulline</text>
<text x="549.80" y="163.20" font-size="5.6" font-weight="bold" text-anchor="middle" fill="#111" textLength="24.90" lengthAdjust="spacingAndGlyphs" stroke="#111" stroke-width="0.12">L-arginine</text>
<text x="590.20" y="163.20" font-size="5.6" font-weight="bold" text-anchor="middle" fill="#111" textLength="23.30" lengthAdjust="spacingAndGlyphs" stroke="#111" stroke-width="0.12">L-alanine</text>
<text x="630.40" y="163.20" font-size="5.6" font-weight="bold" text-anchor="middle" fill="#111" textLength="26.50" lengthAdjust="spacingAndGlyphs" stroke="#111" stroke-width="0.12">L-aspartate</text>
<line x1="495.80" y1="166.40" x2="565.10" y2="166.40" stroke="#222" stroke-width="1.0"/>
<line x1="575.80" y1="166.40" x2="646.00" y2="166.40" stroke="#222" stroke-width="1.0"/>
<text x="531.30" y="173.20" font-size="6.7" font-weight="bold" text-anchor="middle" fill="#111" textLength="63.50" lengthAdjust="spacingAndGlyphs" stroke="#111" stroke-width="0.18">Arginine biosynthesis</text>
<text x="612.20" y="172.70" font-size="6.7" font-weight="bold" text-anchor="middle" fill="#111" textLength="62.90" lengthAdjust="spacingAndGlyphs" stroke="#111" stroke-width="0.18">Alanine and aspartate</text>
<text x="612.30" y="180.10" font-size="6.7" font-weight="bold" text-anchor="middle" fill="#111" textLength="33.40" lengthAdjust="spacingAndGlyphs" stroke="#111" stroke-width="0.18">metabolism</text>
<text x="470.70" y="89.85" font-size="6.5" font-weight="bold" text-anchor="middle" fill="#111" textLength="69.90" lengthAdjust="spacingAndGlyphs" transform="rotate(-90 470.70 89.85)" stroke="#111" stroke-width="0.18">Relative concentration</text>
<text x="477.90" y="89.90" font-size="6.5" font-weight="bold" text-anchor="middle" fill="#111" textLength="41.60" lengthAdjust="spacingAndGlyphs" transform="rotate(-90 477.90 89.90)" stroke="#111" stroke-width="0.18">(fold change)</text>
<text transform="translate(9.17 212.70) scale(0.925 1)" font-size="20.4" font-weight="bold" fill="#000" stroke="#000" stroke-width="0.35">D</text>
<line x1="25.50" y1="223.80" x2="25.50" y2="357.40" stroke="#222" stroke-width="1.2"/>
<line x1="22.30" y1="357.40" x2="25.50" y2="357.40" stroke="#222" stroke-width="1.0"/>
<text x="21.30" y="359.42" font-size="5.6" font-weight="bold" text-anchor="end" fill="#111" stroke="#111" stroke-width="0.18">0</text>
<line x1="22.30" y1="324.00" x2="25.50" y2="324.00" stroke="#222" stroke-width="1.0"/>
<text x="21.30" y="326.02" font-size="5.6" font-weight="bold" text-anchor="end" fill="#111" stroke="#111" stroke-width="0.18">1</text>
<line x1="22.30" y1="290.60" x2="25.50" y2="290.60" stroke="#222" stroke-width="1.0"/>
<text x="21.30" y="292.62" font-size="5.6" font-weight="bold" text-anchor="end" fill="#111" stroke="#111" stroke-width="0.18">2</text>
<line x1="22.30" y1="257.20" x2="25.50" y2="257.20" stroke="#222" stroke-width="1.0"/>
<text x="21.30" y="259.22" font-size="5.6" font-weight="bold" text-anchor="end" fill="#111" stroke="#111" stroke-width="0.18">3</text>
<line x1="22.30" y1="223.80" x2="25.50" y2="223.80" stroke="#222" stroke-width="1.0"/>
<text x="21.30" y="225.82" font-size="5.6" font-weight="bold" text-anchor="end" fill="#111" stroke="#111" stroke-width="0.18">4</text>
<line x1="22.30" y1="357.40" x2="192.70" y2="357.40" stroke="#222" stroke-width="1.2"/>
<line x1="53.20" y1="357.40" x2="53.20" y2="360.30" stroke="#222" stroke-width="1.0"/>
<line x1="109.00" y1="357.40" x2="109.00" y2="360.30" stroke="#222" stroke-width="1.0"/>
<line x1="164.80" y1="357.40" x2="164.80" y2="360.30" stroke="#222" stroke-width="1.0"/>
<line x1="44.20" y1="297.60" x2="44.20" y2="317.30" stroke="#4a8fe0" stroke-width="1.15"/>
<line x1="44.20" y1="331.70" x2="44.20" y2="343.90" stroke="#4a8fe0" stroke-width="1.15"/>
<line x1="39.54" y1="297.60" x2="48.86" y2="297.60" stroke="#4a8fe0" stroke-width="1.15"/>
<line x1="39.54" y1="343.90" x2="48.86" y2="343.90" stroke="#4a8fe0" stroke-width="1.15"/>
<rect x="35.40" y="317.30" width="17.60" height="14.40" fill="none" stroke="#4a8fe0" stroke-width="1.15"/>
<line x1="35.40" y1="324.40" x2="53.00" y2="324.40" stroke="#4a8fe0" stroke-width="1.15"/>
<rect x="43.55" y="280.95" width="1.30" height="1.30" fill="#4a8fe0"/>
<line x1="62.50" y1="282.30" x2="62.50" y2="308.10" stroke="#e0393e" stroke-width="1.15"/>
<line x1="62.50" y1="328.30" x2="62.50" y2="350.30" stroke="#e0393e" stroke-width="1.15"/>
<line x1="57.84" y1="282.30" x2="67.16" y2="282.30" stroke="#e0393e" stroke-width="1.15"/>
<line x1="57.84" y1="350.30" x2="67.16" y2="350.30" stroke="#e0393e" stroke-width="1.15"/>
<rect x="53.70" y="308.10" width="17.60" height="20.20" fill="none" stroke="#e0393e" stroke-width="1.15"/>
<line x1="53.70" y1="320.80" x2="71.30" y2="320.80" stroke="#e0393e" stroke-width="1.15"/>
<rect x="61.85" y="270.65" width="1.30" height="1.30" fill="#e0393e"/>
<rect x="61.85" y="274.25" width="1.30" height="1.30" fill="#e0393e"/>
<line x1="60.50" y1="266.15" x2="60.50" y2="269.25" stroke="#222" stroke-width="0.85"/>
<line x1="59.16" y1="266.93" x2="61.84" y2="268.48" stroke="#222" stroke-width="0.85"/>
<line x1="61.84" y1="266.93" x2="59.16" y2="268.48" stroke="#222" stroke-width="0.85"/>
<line x1="64.50" y1="266.15" x2="64.50" y2="269.25" stroke="#222" stroke-width="0.85"/>
<line x1="63.16" y1="266.93" x2="65.84" y2="268.48" stroke="#222" stroke-width="0.85"/>
<line x1="65.84" y1="266.93" x2="63.16" y2="268.48" stroke="#222" stroke-width="0.85"/>
<line x1="99.80" y1="305.10" x2="99.80" y2="319.50" stroke="#4a8fe0" stroke-width="1.15"/>
<line x1="99.80" y1="329.40" x2="99.80" y2="337.80" stroke="#4a8fe0" stroke-width="1.15"/>
<line x1="95.14" y1="305.10" x2="104.46" y2="305.10" stroke="#4a8fe0" stroke-width="1.15"/>
<line x1="95.14" y1="337.80" x2="104.46" y2="337.80" stroke="#4a8fe0" stroke-width="1.15"/>
<rect x="91.00" y="319.50" width="17.60" height="9.90" fill="none" stroke="#4a8fe0" stroke-width="1.15"/>
<line x1="91.00" y1="325.30" x2="108.60" y2="325.30" stroke="#4a8fe0" stroke-width="1.15"/>
<rect x="99.15" y="296.75" width="1.30" height="1.30" fill="#4a8fe0"/>
<line x1="118.25" y1="290.30" x2="118.25" y2="307.40" stroke="#e0393e" stroke-width="1.15"/>
<line x1="118.25" y1="321.20" x2="118.25" y2="336.60" stroke="#e0393e" stroke-width="1.15"/>
<line x1="113.51" y1="290.30" x2="122.99" y2="290.30" stroke="#e0393e" stroke-width="1.15"/>
<line x1="113.51" y1="336.60" x2="122.99" y2="336.60" stroke="#e0393e" stroke-width="1.15"/>
<rect x="109.30" y="307.40" width="17.90" height="13.80" fill="none" stroke="#e0393e" stroke-width="1.15"/>
<line x1="109.30" y1="316.30" x2="127.20" y2="316.30" stroke="#e0393e" stroke-width="1.15"/>
<rect x="117.60" y="253.25" width="1.30" height="1.30" fill="#e0393e"/>
<rect x="117.60" y="276.15" width="1.30" height="1.30" fill="#e0393e"/>
<rect x="117.60" y="277.95" width="1.30" height="1.30" fill="#e0393e"/>
<rect x="117.60" y="282.55" width="1.30" height="1.30" fill="#e0393e"/>
<line x1="116.25" y1="248.05" x2="116.25" y2="251.15" stroke="#222" stroke-width="0.85"/>
<line x1="114.91" y1="248.82" x2="117.59" y2="250.38" stroke="#222" stroke-width="0.85"/>
<line x1="117.59" y1="248.82" x2="114.91" y2="250.38" stroke="#222" stroke-width="0.85"/>
<line x1="120.25" y1="248.05" x2="120.25" y2="251.15" stroke="#222" stroke-width="0.85"/>
<line x1="118.91" y1="248.82" x2="121.59" y2="250.38" stroke="#222" stroke-width="0.85"/>
<line x1="121.59" y1="248.82" x2="118.91" y2="250.38" stroke="#222" stroke-width="0.85"/>
<line x1="155.45" y1="294.70" x2="155.45" y2="317.40" stroke="#4a8fe0" stroke-width="1.15"/>
<line x1="155.45" y1="334.20" x2="155.45" y2="345.60" stroke="#4a8fe0" stroke-width="1.15"/>
<line x1="150.65" y1="294.70" x2="160.25" y2="294.70" stroke="#4a8fe0" stroke-width="1.15"/>
<line x1="150.65" y1="345.60" x2="160.25" y2="345.60" stroke="#4a8fe0" stroke-width="1.15"/>
<rect x="146.40" y="317.40" width="18.10" height="16.80" fill="none" stroke="#4a8fe0" stroke-width="1.15"/>
<line x1="146.40" y1="325.10" x2="164.50" y2="325.10" stroke="#4a8fe0" stroke-width="1.15"/>
<line x1="174.15" y1="286.10" x2="174.15" y2="309.60" stroke="#e0393e" stroke-width="1.15"/>
<line x1="174.15" y1="326.10" x2="174.15" y2="349.30" stroke="#e0393e" stroke-width="1.15"/>
<line x1="169.46" y1="286.10" x2="178.84" y2="286.10" stroke="#e0393e" stroke-width="1.15"/>
<line x1="169.46" y1="349.30" x2="178.84" y2="349.30" stroke="#e0393e" stroke-width="1.15"/>
<rect x="165.30" y="309.60" width="17.70" height="16.50" fill="none" stroke="#e0393e" stroke-width="1.15"/>
<line x1="165.30" y1="318.70" x2="183.00" y2="318.70" stroke="#e0393e" stroke-width="1.15"/>
<rect x="173.45" y="273.25" width="1.30" height="1.30" fill="#e0393e"/>
<rect x="171.05" y="275.65" width="1.30" height="1.30" fill="#e0393e"/>
<rect x="175.85" y="275.65" width="1.30" height="1.30" fill="#e0393e"/>
<rect x="173.45" y="278.05" width="1.30" height="1.30" fill="#e0393e"/>
<line x1="172.15" y1="267.95" x2="172.15" y2="271.05" stroke="#222" stroke-width="0.85"/>
<line x1="170.81" y1="268.73" x2="173.49" y2="270.27" stroke="#222" stroke-width="0.85"/>
<line x1="173.49" y1="268.73" x2="170.81" y2="270.27" stroke="#222" stroke-width="0.85"/>
<line x1="176.15" y1="267.95" x2="176.15" y2="271.05" stroke="#222" stroke-width="0.85"/>
<line x1="174.81" y1="268.73" x2="177.49" y2="270.27" stroke="#222" stroke-width="0.85"/>
<line x1="177.49" y1="268.73" x2="174.81" y2="270.27" stroke="#222" stroke-width="0.85"/>
<rect x="185.60" y="226.80" width="4.50" height="4.50" fill="none" stroke="#4a8fe0" stroke-width="1.2"/>
<rect x="185.60" y="235.40" width="4.50" height="4.50" fill="none" stroke="#e0393e" stroke-width="1.2"/>
<text x="194.30" y="230.80" font-size="6.6" font-weight="bold" text-anchor="start" fill="#111" textLength="9.70" lengthAdjust="spacingAndGlyphs" stroke="#111" stroke-width="0.18">HC</text>
<text x="194.30" y="239.60" font-size="6.6" font-weight="bold" text-anchor="start" fill="#111" textLength="13.80" lengthAdjust="spacingAndGlyphs" stroke="#111" stroke-width="0.18">PTC</text>
<text x="53.20" y="366.30" font-size="5.6" font-weight="bold" text-anchor="middle" fill="#111" textLength="26.00" lengthAdjust="spacingAndGlyphs" stroke="#111" stroke-width="0.12">L-arginine</text>
<text x="109.00" y="366.30" font-size="5.6" font-weight="bold" text-anchor="middle" fill="#111" textLength="23.00" lengthAdjust="spacingAndGlyphs" stroke="#111" stroke-width="0.12">L-proline</text>
<text x="164.80" y="366.30" font-size="5.6" font-weight="bold" text-anchor="middle" fill="#111" textLength="25.00" lengthAdjust="spacingAndGlyphs" stroke="#111" stroke-width="0.12">Agmatine</text>
<text x="108.80" y="373.30" font-size="6.7" font-weight="bold" text-anchor="middle" fill="#111" textLength="98.00" lengthAdjust="spacingAndGlyphs" stroke="#111" stroke-width="0.18">Arginine and proline metabolism</text>
<text x="7.00" y="289.05" font-size="6.5" font-weight="bold" text-anchor="middle" fill="#111" textLength="74.10" lengthAdjust="spacingAndGlyphs" transform="rotate(-90 7.00 289.05)" stroke="#111" stroke-width="0.18">Relative concentration</text>
<text x="14.50" y="288.55" font-size="6.5" font-weight="bold" text-anchor="middle" fill="#111" textLength="41.90" lengthAdjust="spacingAndGlyphs" transform="rotate(-90 14.50 288.55)" stroke="#111" stroke-width="0.18">(fold change)</text>
<text transform="translate(236.13 212.70) scale(0.885 1)" font-size="20.4" font-weight="bold" fill="#000" stroke="#000" stroke-width="0.35">E</text>
<line x1="256.50" y1="223.80" x2="256.50" y2="357.40" stroke="#222" stroke-width="1.2"/>
<line x1="253.10" y1="357.40" x2="256.50" y2="357.40" stroke="#222" stroke-width="1.0"/>
<text x="251.90" y="359.34" font-size="5.4" font-weight="bold" text-anchor="end" fill="#111" stroke="#111" stroke-width="0.18">0</text>
<line x1="253.10" y1="324.00" x2="256.50" y2="324.00" stroke="#222" stroke-width="1.0"/>
<text x="251.90" y="325.94" font-size="5.4" font-weight="bold" text-anchor="end" fill="#111" stroke="#111" stroke-width="0.18">1</text>
<line x1="253.10" y1="290.60" x2="256.50" y2="290.60" stroke="#222" stroke-width="1.0"/>
<text x="251.90" y="292.54" font-size="5.4" font-weight="bold" text-anchor="end" fill="#111" stroke="#111" stroke-width="0.18">2</text>
<line x1="253.10" y1="257.20" x2="256.50" y2="257.20" stroke="#222" stroke-width="1.0"/>
<text x="251.90" y="259.14" font-size="5.4" font-weight="bold" text-anchor="end" fill="#111" stroke="#111" stroke-width="0.18">3</text>
<line x1="253.10" y1="223.80" x2="256.50" y2="223.80" stroke="#222" stroke-width="1.0"/>
<text x="251.90" y="225.74" font-size="5.4" font-weight="bold" text-anchor="end" fill="#111" stroke="#111" stroke-width="0.18">4</text>
<line x1="253.10" y1="357.40" x2="423.50" y2="357.40" stroke="#222" stroke-width="1.2"/>
<line x1="277.50" y1="357.40" x2="277.50" y2="360.30" stroke="#222" stroke-width="1.0"/>
<line x1="319.30" y1="357.40" x2="319.30" y2="360.30" stroke="#222" stroke-width="1.0"/>
<line x1="360.60" y1="357.40" x2="360.60" y2="360.30" stroke="#222" stroke-width="1.0"/>
<line x1="402.60" y1="357.40" x2="402.60" y2="360.30" stroke="#222" stroke-width="1.0"/>
<line x1="270.15" y1="303.20" x2="270.15" y2="315.40" stroke="#4a8fe0" stroke-width="1.15"/>
<line x1="270.15" y1="336.10" x2="270.15" y2="342.20" stroke="#4a8fe0" stroke-width="1.15"/>
<line x1="267.01" y1="303.20" x2="273.29" y2="303.20" stroke="#4a8fe0" stroke-width="1.15"/>
<line x1="267.01" y1="342.20" x2="273.29" y2="342.20" stroke="#4a8fe0" stroke-width="1.15"/>
<rect x="263.60" y="315.40" width="13.10" height="20.70" fill="none" stroke="#4a8fe0" stroke-width="1.15"/>
<line x1="263.60" y1="320.80" x2="276.70" y2="320.80" stroke="#4a8fe0" stroke-width="1.15"/>
<line x1="283.95" y1="285.40" x2="283.95" y2="305.10" stroke="#e0393e" stroke-width="1.15"/>
<line x1="283.95" y1="327.10" x2="283.95" y2="339.30" stroke="#e0393e" stroke-width="1.15"/>
<line x1="280.85" y1="285.40" x2="287.05" y2="285.40" stroke="#e0393e" stroke-width="1.15"/>
<line x1="280.85" y1="339.30" x2="287.05" y2="339.30" stroke="#e0393e" stroke-width="1.15"/>
<rect x="277.50" y="305.10" width="12.90" height="22.00" fill="none" stroke="#e0393e" stroke-width="1.15"/>
<line x1="277.50" y1="311.20" x2="290.40" y2="311.20" stroke="#e0393e" stroke-width="1.15"/>
<line x1="282.15" y1="277.80" x2="282.15" y2="280.60" stroke="#222" stroke-width="0.8"/>
<line x1="280.94" y1="278.50" x2="283.36" y2="279.90" stroke="#222" stroke-width="0.8"/>
<line x1="283.36" y1="278.50" x2="280.94" y2="279.90" stroke="#222" stroke-width="0.8"/>
<line x1="285.75" y1="277.80" x2="285.75" y2="280.60" stroke="#222" stroke-width="0.8"/>
<line x1="284.54" y1="278.50" x2="286.96" y2="279.90" stroke="#222" stroke-width="0.8"/>
<line x1="286.96" y1="278.50" x2="284.54" y2="279.90" stroke="#222" stroke-width="0.8"/>
<line x1="312.00" y1="306.10" x2="312.00" y2="319.50" stroke="#4a8fe0" stroke-width="1.15"/>
<line x1="312.00" y1="328.10" x2="312.00" y2="339.80" stroke="#4a8fe0" stroke-width="1.15"/>
<line x1="308.88" y1="306.10" x2="315.12" y2="306.10" stroke="#4a8fe0" stroke-width="1.15"/>
<line x1="308.88" y1="339.80" x2="315.12" y2="339.80" stroke="#4a8fe0" stroke-width="1.15"/>
<rect x="305.50" y="319.50" width="13.00" height="8.60" fill="none" stroke="#4a8fe0" stroke-width="1.15"/>
<line x1="305.50" y1="323.40" x2="318.50" y2="323.40" stroke="#4a8fe0" stroke-width="1.15"/>
<rect x="311.35" y="303.05" width="1.30" height="1.30" fill="#4a8fe0"/>
<line x1="325.90" y1="277.40" x2="325.90" y2="303.90" stroke="#e0393e" stroke-width="1.15"/>
<line x1="325.90" y1="322.70" x2="325.90" y2="339.30" stroke="#e0393e" stroke-width="1.15"/>
<line x1="322.78" y1="277.40" x2="329.02" y2="277.40" stroke="#e0393e" stroke-width="1.15"/>
<line x1="322.78" y1="339.30" x2="329.02" y2="339.30" stroke="#e0393e" stroke-width="1.15"/>
<rect x="319.40" y="303.90" width="13.00" height="18.80" fill="none" stroke="#e0393e" stroke-width="1.15"/>
<line x1="319.40" y1="315.90" x2="332.40" y2="315.90" stroke="#e0393e" stroke-width="1.15"/>
<rect x="325.25" y="265.45" width="1.30" height="1.30" fill="#e0393e"/>
<line x1="324.10" y1="260.70" x2="324.10" y2="263.50" stroke="#222" stroke-width="0.8"/>
<line x1="322.89" y1="261.40" x2="325.31" y2="262.80" stroke="#222" stroke-width="0.8"/>
<line x1="325.31" y1="261.40" x2="322.89" y2="262.80" stroke="#222" stroke-width="0.8"/>
<line x1="327.70" y1="260.70" x2="327.70" y2="263.50" stroke="#222" stroke-width="0.8"/>
<line x1="326.49" y1="261.40" x2="328.91" y2="262.80" stroke="#222" stroke-width="0.8"/>
<line x1="328.91" y1="261.40" x2="326.49" y2="262.80" stroke="#222" stroke-width="0.8"/>
<line x1="353.80" y1="310.70" x2="353.80" y2="321.20" stroke="#4a8fe0" stroke-width="1.15"/>
<line x1="353.80" y1="327.80" x2="353.80" y2="333.40" stroke="#4a8fe0" stroke-width="1.15"/>
<line x1="350.58" y1="310.70" x2="357.02" y2="310.70" stroke="#4a8fe0" stroke-width="1.15"/>
<line x1="350.58" y1="333.40" x2="357.02" y2="333.40" stroke="#4a8fe0" stroke-width="1.15"/>
<rect x="347.10" y="321.20" width="13.40" height="6.60" fill="none" stroke="#4a8fe0" stroke-width="1.15"/>
<line x1="347.10" y1="324.70" x2="360.50" y2="324.70" stroke="#4a8fe0" stroke-width="1.15"/>
<rect x="353.15" y="305.65" width="1.30" height="1.30" fill="#4a8fe0"/>
<line x1="367.80" y1="288.10" x2="367.80" y2="307.60" stroke="#e0393e" stroke-width="1.15"/>
<line x1="367.80" y1="323.40" x2="367.80" y2="335.90" stroke="#e0393e" stroke-width="1.15"/>
<line x1="364.63" y1="288.10" x2="370.97" y2="288.10" stroke="#e0393e" stroke-width="1.15"/>
<line x1="364.63" y1="335.90" x2="370.97" y2="335.90" stroke="#e0393e" stroke-width="1.15"/>
<rect x="361.20" y="307.60" width="13.20" height="15.80" fill="none" stroke="#e0393e" stroke-width="1.15"/>
<line x1="361.20" y1="318.60" x2="374.40" y2="318.60" stroke="#e0393e" stroke-width="1.15"/>
<rect x="367.15" y="264.95" width="1.30" height="1.30" fill="#e0393e"/>
<rect x="367.15" y="269.15" width="1.30" height="1.30" fill="#e0393e"/>
<rect x="367.15" y="270.85" width="1.30" height="1.30" fill="#e0393e"/>
<rect x="367.15" y="272.35" width="1.30" height="1.30" fill="#e0393e"/>
<line x1="366.00" y1="260.40" x2="366.00" y2="263.20" stroke="#222" stroke-width="0.8"/>
<line x1="364.79" y1="261.10" x2="367.21" y2="262.50" stroke="#222" stroke-width="0.8"/>
<line x1="367.21" y1="261.10" x2="364.79" y2="262.50" stroke="#222" stroke-width="0.8"/>
<line x1="369.60" y1="260.40" x2="369.60" y2="263.20" stroke="#222" stroke-width="0.8"/>
<line x1="368.39" y1="261.10" x2="370.81" y2="262.50" stroke="#222" stroke-width="0.8"/>
<line x1="370.81" y1="261.10" x2="368.39" y2="262.50" stroke="#222" stroke-width="0.8"/>
<line x1="395.55" y1="294.90" x2="395.55" y2="316.10" stroke="#4a8fe0" stroke-width="1.15"/>
<line x1="395.55" y1="334.40" x2="395.55" y2="351.50" stroke="#4a8fe0" stroke-width="1.15"/>
<line x1="392.21" y1="294.90" x2="398.89" y2="294.90" stroke="#4a8fe0" stroke-width="1.15"/>
<line x1="392.21" y1="351.50" x2="398.89" y2="351.50" stroke="#4a8fe0" stroke-width="1.15"/>
<rect x="388.60" y="316.10" width="13.90" height="18.30" fill="none" stroke="#4a8fe0" stroke-width="1.15"/>
<line x1="388.60" y1="324.20" x2="402.50" y2="324.20" stroke="#4a8fe0" stroke-width="1.15"/>
<rect x="394.90" y="274.05" width="1.30" height="1.30" fill="#4a8fe0"/>
<line x1="409.90" y1="255.60" x2="409.90" y2="290.00" stroke="#e0393e" stroke-width="1.15"/>
<line x1="409.90" y1="313.20" x2="409.90" y2="325.40" stroke="#e0393e" stroke-width="1.15"/>
<line x1="406.68" y1="255.60" x2="413.12" y2="255.60" stroke="#e0393e" stroke-width="1.15"/>
<line x1="406.68" y1="325.40" x2="413.12" y2="325.40" stroke="#e0393e" stroke-width="1.15"/>
<rect x="403.20" y="290.00" width="13.40" height="23.20" fill="none" stroke="#e0393e" stroke-width="1.15"/>
<line x1="403.20" y1="302.70" x2="416.60" y2="302.70" stroke="#e0393e" stroke-width="1.15"/>
<rect x="409.25" y="234.45" width="1.30" height="1.30" fill="#e0393e"/>
<line x1="407.50" y1="228.20" x2="407.50" y2="231.00" stroke="#222" stroke-width="0.8"/>
<line x1="406.29" y1="228.90" x2="408.71" y2="230.30" stroke="#222" stroke-width="0.8"/>
<line x1="408.71" y1="228.90" x2="406.29" y2="230.30" stroke="#222" stroke-width="0.8"/>
<line x1="411.10" y1="228.20" x2="411.10" y2="231.00" stroke="#222" stroke-width="0.8"/>
<line x1="409.89" y1="228.90" x2="412.31" y2="230.30" stroke="#222" stroke-width="0.8"/>
<line x1="412.31" y1="228.90" x2="409.89" y2="230.30" stroke="#222" stroke-width="0.8"/>
<rect x="418.20" y="225.80" width="4.50" height="4.50" fill="none" stroke="#4a8fe0" stroke-width="1.2"/>
<rect x="418.20" y="236.30" width="4.50" height="4.50" fill="none" stroke="#e0393e" stroke-width="1.2"/>
<text x="427.00" y="230.40" font-size="6.6" font-weight="bold" text-anchor="start" fill="#111" textLength="9.90" lengthAdjust="spacingAndGlyphs" stroke="#111" stroke-width="0.18">HC</text>
<text x="427.00" y="240.70" font-size="6.6" font-weight="bold" text-anchor="start" fill="#111" textLength="13.70" lengthAdjust="spacingAndGlyphs" stroke="#111" stroke-width="0.18">PTC</text>
<text x="277.50" y="366.40" font-size="5.6" font-weight="bold" text-anchor="middle" fill="#111" textLength="41.70" lengthAdjust="spacingAndGlyphs" stroke="#111" stroke-width="0.12">L-phenylalanine</text>
<text x="319.30" y="366.40" font-size="5.6" font-weight="bold" text-anchor="middle" fill="#111" textLength="26.20" lengthAdjust="spacingAndGlyphs" stroke="#111" stroke-width="0.12">L-tyrosine</text>
<text x="360.60" y="366.40" font-size="5.6" font-weight="bold" text-anchor="middle" fill="#111" textLength="33.70" lengthAdjust="spacingAndGlyphs" stroke="#111" stroke-width="0.12">L-methionine</text>
<text x="402.60" y="366.40" font-size="5.6" font-weight="bold" text-anchor="middle" fill="#111" textLength="22.90" lengthAdjust="spacingAndGlyphs" stroke="#111" stroke-width="0.12">L-cystine</text>
<line x1="255.10" y1="369.20" x2="334.10" y2="369.20" stroke="#222" stroke-width="1.1"/>
<line x1="342.40" y1="369.20" x2="416.40" y2="369.20" stroke="#222" stroke-width="1.1"/>
<text x="294.60" y="376.60" font-size="6.7" font-weight="bold" text-anchor="middle" fill="#111" textLength="78.00" lengthAdjust="spacingAndGlyphs" stroke="#111" stroke-width="0.18">Phenylalanine metabolism</text>
<text x="379.40" y="376.40" font-size="6.7" font-weight="bold" text-anchor="middle" fill="#111" textLength="74.40" lengthAdjust="spacingAndGlyphs" stroke="#111" stroke-width="0.18">Cysteine and methionine</text>
<text x="379.20" y="383.60" font-size="6.7" font-weight="bold" text-anchor="middle" fill="#111" textLength="34.90" lengthAdjust="spacingAndGlyphs" stroke="#111" stroke-width="0.18">metabolism</text>
<text x="237.50" y="289.05" font-size="6.5" font-weight="bold" text-anchor="middle" fill="#111" textLength="74.10" lengthAdjust="spacingAndGlyphs" transform="rotate(-90 237.50 289.05)" stroke="#111" stroke-width="0.18">Relative concentration</text>
<text x="244.40" y="288.35" font-size="6.5" font-weight="bold" text-anchor="middle" fill="#111" textLength="41.50" lengthAdjust="spacingAndGlyphs" transform="rotate(-90 244.40 288.35)" stroke="#111" stroke-width="0.18">(fold change)</text>
<text transform="translate(462.91 212.80) scale(0.894 1)" font-size="20.4" font-weight="bold" fill="#000" stroke="#000" stroke-width="0.35">F</text>
<text x="568.80" y="222.50" font-size="6.2" font-weight="bold" text-anchor="middle" fill="#111" textLength="120.00" lengthAdjust="spacingAndGlyphs" stroke="#111" stroke-width="0.18">Glycine, serine and threonine metabolism</text>
<line x1="488.30" y1="234.00" x2="488.30" y2="362.60" stroke="#222" stroke-width="1.2"/>
<line x1="486.30" y1="362.60" x2="488.30" y2="362.60" stroke="#222" stroke-width="1.0"/>
<text x="484.80" y="364.11" font-size="4.2" font-weight="bold" text-anchor="end" fill="#111" stroke="#111" stroke-width="0.18">0</text>
<line x1="486.30" y1="330.45" x2="488.30" y2="330.45" stroke="#222" stroke-width="1.0"/>
<text x="484.80" y="331.96" font-size="4.2" font-weight="bold" text-anchor="end" fill="#111" stroke="#111" stroke-width="0.18">1</text>
<line x1="486.30" y1="298.30" x2="488.30" y2="298.30" stroke="#222" stroke-width="1.0"/>
<text x="484.80" y="299.81" font-size="4.2" font-weight="bold" text-anchor="end" fill="#111" stroke="#111" stroke-width="0.18">2</text>
<line x1="486.30" y1="266.15" x2="488.30" y2="266.15" stroke="#222" stroke-width="1.0"/>
<text x="484.80" y="267.66" font-size="4.2" font-weight="bold" text-anchor="end" fill="#111" stroke="#111" stroke-width="0.18">3</text>
<line x1="486.30" y1="234.00" x2="488.30" y2="234.00" stroke="#222" stroke-width="1.0"/>
<text x="484.80" y="235.51" font-size="4.2" font-weight="bold" text-anchor="end" fill="#111" stroke="#111" stroke-width="0.18">4</text>
<line x1="486.30" y1="362.60" x2="650.30" y2="362.60" stroke="#222" stroke-width="1.2"/>
<line x1="504.20" y1="362.60" x2="504.20" y2="365.10" stroke="#222" stroke-width="1.0"/>
<line x1="536.30" y1="362.60" x2="536.30" y2="365.10" stroke="#222" stroke-width="1.0"/>
<line x1="568.80" y1="362.60" x2="568.80" y2="365.10" stroke="#222" stroke-width="1.0"/>
<line x1="601.50" y1="362.60" x2="601.50" y2="365.10" stroke="#222" stroke-width="1.0"/>
<line x1="633.50" y1="362.60" x2="633.50" y2="365.10" stroke="#222" stroke-width="1.0"/>
<line x1="498.55" y1="313.90" x2="498.55" y2="326.60" stroke="#4a8fe0" stroke-width="1.15"/>
<line x1="498.55" y1="335.40" x2="498.55" y2="344.40" stroke="#4a8fe0" stroke-width="1.15"/>
<line x1="496.08" y1="313.90" x2="501.02" y2="313.90" stroke="#4a8fe0" stroke-width="1.15"/>
<line x1="496.08" y1="344.40" x2="501.02" y2="344.40" stroke="#4a8fe0" stroke-width="1.15"/>
<rect x="493.40" y="326.60" width="10.30" height="8.80" fill="none" stroke="#4a8fe0" stroke-width="1.15"/>
<line x1="493.40" y1="331.00" x2="503.70" y2="331.00" stroke="#4a8fe0" stroke-width="1.15"/>
<line x1="509.65" y1="297.30" x2="509.65" y2="315.60" stroke="#e0393e" stroke-width="1.15"/>
<line x1="509.65" y1="329.80" x2="509.65" y2="345.20" stroke="#e0393e" stroke-width="1.15"/>
<line x1="507.13" y1="297.30" x2="512.17" y2="297.30" stroke="#e0393e" stroke-width="1.15"/>
<line x1="507.13" y1="345.20" x2="512.17" y2="345.20" stroke="#e0393e" stroke-width="1.15"/>
<rect x="504.40" y="315.60" width="10.50" height="14.20" fill="none" stroke="#e0393e" stroke-width="1.15"/>
<line x1="504.40" y1="322.00" x2="514.90" y2="322.00" stroke="#e0393e" stroke-width="1.15"/>
<rect x="509.10" y="260.55" width="1.10" height="1.10" fill="#e0393e"/>
<rect x="509.10" y="277.35" width="1.10" height="1.10" fill="#e0393e"/>
<rect x="509.10" y="280.65" width="1.10" height="1.10" fill="#e0393e"/>
<rect x="509.10" y="282.45" width="1.10" height="1.10" fill="#e0393e"/>
<rect x="509.10" y="284.35" width="1.10" height="1.10" fill="#e0393e"/>
<rect x="509.10" y="286.05" width="1.10" height="1.10" fill="#e0393e"/>
<rect x="509.10" y="287.65" width="1.10" height="1.10" fill="#e0393e"/>
<rect x="509.10" y="289.45" width="1.10" height="1.10" fill="#e0393e"/>
<rect x="509.10" y="291.45" width="1.10" height="1.10" fill="#e0393e"/>
<line x1="508.30" y1="254.95" x2="508.30" y2="257.05" stroke="#222" stroke-width="0.7"/>
<line x1="507.39" y1="255.47" x2="509.21" y2="256.52" stroke="#222" stroke-width="0.7"/>
<line x1="509.21" y1="255.47" x2="507.39" y2="256.52" stroke="#222" stroke-width="0.7"/>
<line x1="511.00" y1="254.95" x2="511.00" y2="257.05" stroke="#222" stroke-width="0.7"/>
<line x1="510.09" y1="255.47" x2="511.91" y2="256.52" stroke="#222" stroke-width="0.7"/>
<line x1="511.91" y1="255.47" x2="510.09" y2="256.52" stroke="#222" stroke-width="0.7"/>
<line x1="531.25" y1="316.40" x2="531.25" y2="325.60" stroke="#4a8fe0" stroke-width="1.15"/>
<line x1="531.25" y1="335.40" x2="531.25" y2="342.00" stroke="#4a8fe0" stroke-width="1.15"/>
<line x1="528.92" y1="316.40" x2="533.58" y2="316.40" stroke="#4a8fe0" stroke-width="1.15"/>
<line x1="528.92" y1="342.00" x2="533.58" y2="342.00" stroke="#4a8fe0" stroke-width="1.15"/>
<rect x="526.40" y="325.60" width="9.70" height="9.80" fill="none" stroke="#4a8fe0" stroke-width="1.15"/>
<line x1="526.40" y1="331.70" x2="536.10" y2="331.70" stroke="#4a8fe0" stroke-width="1.15"/>
<rect x="530.70" y="308.45" width="1.10" height="1.10" fill="#4a8fe0"/>
<rect x="530.70" y="351.65" width="1.10" height="1.10" fill="#4a8fe0"/>
<line x1="542.00" y1="295.10" x2="542.00" y2="313.90" stroke="#e0393e" stroke-width="1.15"/>
<line x1="542.00" y1="328.60" x2="542.00" y2="343.90" stroke="#e0393e" stroke-width="1.15"/>
<line x1="539.55" y1="295.10" x2="544.45" y2="295.10" stroke="#e0393e" stroke-width="1.15"/>
<line x1="539.55" y1="343.90" x2="544.45" y2="343.90" stroke="#e0393e" stroke-width="1.15"/>
<rect x="536.90" y="313.90" width="10.20" height="14.70" fill="none" stroke="#e0393e" stroke-width="1.15"/>
<line x1="536.90" y1="321.20" x2="547.10" y2="321.20" stroke="#e0393e" stroke-width="1.15"/>
<rect x="541.45" y="273.35" width="1.10" height="1.10" fill="#e0393e"/>
<rect x="541.45" y="275.55" width="1.10" height="1.10" fill="#e0393e"/>
<rect x="541.45" y="280.65" width="1.10" height="1.10" fill="#e0393e"/>
<rect x="541.45" y="288.45" width="1.10" height="1.10" fill="#e0393e"/>
<line x1="540.65" y1="268.85" x2="540.65" y2="270.95" stroke="#222" stroke-width="0.7"/>
<line x1="539.74" y1="269.38" x2="541.56" y2="270.43" stroke="#222" stroke-width="0.7"/>
<line x1="541.56" y1="269.38" x2="539.74" y2="270.43" stroke="#222" stroke-width="0.7"/>
<line x1="543.35" y1="268.85" x2="543.35" y2="270.95" stroke="#222" stroke-width="0.7"/>
<line x1="542.44" y1="269.38" x2="544.26" y2="270.43" stroke="#222" stroke-width="0.7"/>
<line x1="544.26" y1="269.38" x2="542.44" y2="270.43" stroke="#222" stroke-width="0.7"/>
<line x1="563.55" y1="308.60" x2="563.55" y2="325.30" stroke="#4a8fe0" stroke-width="1.15"/>
<line x1="563.55" y1="335.50" x2="563.55" y2="348.70" stroke="#4a8fe0" stroke-width="1.15"/>
<line x1="561.17" y1="308.60" x2="565.93" y2="308.60" stroke="#4a8fe0" stroke-width="1.15"/>
<line x1="561.17" y1="348.70" x2="565.93" y2="348.70" stroke="#4a8fe0" stroke-width="1.15"/>
<rect x="558.60" y="325.30" width="9.90" height="10.20" fill="none" stroke="#4a8fe0" stroke-width="1.15"/>
<line x1="558.60" y1="332.10" x2="568.50" y2="332.10" stroke="#4a8fe0" stroke-width="1.15"/>
<rect x="563.00" y="304.85" width="1.10" height="1.10" fill="#4a8fe0"/>
<line x1="574.50" y1="291.50" x2="574.50" y2="311.80" stroke="#e0393e" stroke-width="1.15"/>
<line x1="574.50" y1="328.10" x2="574.50" y2="341.10" stroke="#e0393e" stroke-width="1.15"/>
<line x1="572.05" y1="291.50" x2="576.95" y2="291.50" stroke="#e0393e" stroke-width="1.15"/>
<line x1="572.05" y1="341.10" x2="576.95" y2="341.10" stroke="#e0393e" stroke-width="1.15"/>
<rect x="569.40" y="311.80" width="10.20" height="16.30" fill="none" stroke="#e0393e" stroke-width="1.15"/>
<line x1="569.40" y1="324.40" x2="579.60" y2="324.40" stroke="#e0393e" stroke-width="1.15"/>
<rect x="573.95" y="253.15" width="1.10" height="1.10" fill="#e0393e"/>
<rect x="573.95" y="257.15" width="1.10" height="1.10" fill="#e0393e"/>
<rect x="573.95" y="279.05" width="1.10" height="1.10" fill="#e0393e"/>
<rect x="573.95" y="282.15" width="1.10" height="1.10" fill="#e0393e"/>
<rect x="573.95" y="284.55" width="1.10" height="1.10" fill="#e0393e"/>
<line x1="573.15" y1="247.35" x2="573.15" y2="249.45" stroke="#222" stroke-width="0.7"/>
<line x1="572.24" y1="247.88" x2="574.06" y2="248.93" stroke="#222" stroke-width="0.7"/>
<line x1="574.06" y1="247.88" x2="572.24" y2="248.93" stroke="#222" stroke-width="0.7"/>
<line x1="575.85" y1="247.35" x2="575.85" y2="249.45" stroke="#222" stroke-width="0.7"/>
<line x1="574.94" y1="247.88" x2="576.76" y2="248.93" stroke="#222" stroke-width="0.7"/>
<line x1="576.76" y1="247.88" x2="574.94" y2="248.93" stroke="#222" stroke-width="0.7"/>
<line x1="595.65" y1="307.60" x2="595.65" y2="323.20" stroke="#4a8fe0" stroke-width="1.15"/>
<line x1="595.65" y1="337.80" x2="595.65" y2="349.50" stroke="#4a8fe0" stroke-width="1.15"/>
<line x1="593.13" y1="307.60" x2="598.17" y2="307.60" stroke="#4a8fe0" stroke-width="1.15"/>
<line x1="593.13" y1="349.50" x2="598.17" y2="349.50" stroke="#4a8fe0" stroke-width="1.15"/>
<rect x="590.40" y="323.20" width="10.50" height="14.60" fill="none" stroke="#4a8fe0" stroke-width="1.15"/>
<line x1="590.40" y1="332.00" x2="600.90" y2="332.00" stroke="#4a8fe0" stroke-width="1.15"/>
<line x1="606.80" y1="296.60" x2="606.80" y2="312.20" stroke="#e0393e" stroke-width="1.15"/>
<line x1="606.80" y1="323.90" x2="606.80" y2="338.60" stroke="#e0393e" stroke-width="1.15"/>
<line x1="604.35" y1="296.60" x2="609.25" y2="296.60" stroke="#e0393e" stroke-width="1.15"/>
<line x1="604.35" y1="338.60" x2="609.25" y2="338.60" stroke="#e0393e" stroke-width="1.15"/>
<rect x="601.70" y="312.20" width="10.20" height="11.70" fill="none" stroke="#e0393e" stroke-width="1.15"/>
<line x1="601.70" y1="318.30" x2="611.90" y2="318.30" stroke="#e0393e" stroke-width="1.15"/>
<rect x="606.25" y="261.45" width="1.10" height="1.10" fill="#e0393e"/>
<rect x="606.25" y="263.85" width="1.10" height="1.10" fill="#e0393e"/>
<rect x="606.25" y="266.25" width="1.10" height="1.10" fill="#e0393e"/>
<rect x="606.25" y="286.75" width="1.10" height="1.10" fill="#e0393e"/>
<rect x="604.25" y="291.85" width="1.10" height="1.10" fill="#e0393e"/>
<rect x="606.25" y="291.85" width="1.10" height="1.10" fill="#e0393e"/>
<rect x="608.25" y="291.85" width="1.10" height="1.10" fill="#e0393e"/>
<rect x="606.25" y="347.25" width="1.10" height="1.10" fill="#e0393e"/>
<line x1="605.45" y1="257.15" x2="605.45" y2="259.25" stroke="#222" stroke-width="0.7"/>
<line x1="604.54" y1="257.68" x2="606.36" y2="258.73" stroke="#222" stroke-width="0.7"/>
<line x1="606.36" y1="257.68" x2="604.54" y2="258.73" stroke="#222" stroke-width="0.7"/>
<line x1="608.15" y1="257.15" x2="608.15" y2="259.25" stroke="#222" stroke-width="0.7"/>
<line x1="607.24" y1="257.68" x2="609.06" y2="258.73" stroke="#222" stroke-width="0.7"/>
<line x1="609.06" y1="257.68" x2="607.24" y2="258.73" stroke="#222" stroke-width="0.7"/>
<line x1="628.65" y1="314.70" x2="628.65" y2="326.40" stroke="#4a8fe0" stroke-width="1.15"/>
<line x1="628.65" y1="334.20" x2="628.65" y2="345.40" stroke="#4a8fe0" stroke-width="1.15"/>
<line x1="626.13" y1="314.70" x2="631.17" y2="314.70" stroke="#4a8fe0" stroke-width="1.15"/>
<line x1="626.13" y1="345.40" x2="631.17" y2="345.40" stroke="#4a8fe0" stroke-width="1.15"/>
<rect x="623.40" y="326.40" width="10.50" height="7.80" fill="none" stroke="#4a8fe0" stroke-width="1.15"/>
<line x1="623.40" y1="330.00" x2="633.90" y2="330.00" stroke="#4a8fe0" stroke-width="1.15"/>
<line x1="639.40" y1="292.90" x2="639.40" y2="312.20" stroke="#e0393e" stroke-width="1.15"/>
<line x1="639.40" y1="326.40" x2="639.40" y2="339.10" stroke="#e0393e" stroke-width="1.15"/>
<line x1="637.00" y1="292.90" x2="641.80" y2="292.90" stroke="#e0393e" stroke-width="1.15"/>
<line x1="637.00" y1="339.10" x2="641.80" y2="339.10" stroke="#e0393e" stroke-width="1.15"/>
<rect x="634.40" y="312.20" width="10.00" height="14.20" fill="none" stroke="#e0393e" stroke-width="1.15"/>
<line x1="634.40" y1="319.00" x2="644.40" y2="319.00" stroke="#e0393e" stroke-width="1.15"/>
<rect x="638.85" y="268.45" width="1.10" height="1.10" fill="#e0393e"/>
<rect x="638.85" y="272.35" width="1.10" height="1.10" fill="#e0393e"/>
<rect x="638.85" y="277.55" width="1.10" height="1.10" fill="#e0393e"/>
<rect x="638.85" y="280.05" width="1.10" height="1.10" fill="#e0393e"/>
<rect x="638.85" y="286.75" width="1.10" height="1.10" fill="#e0393e"/>
<line x1="638.05" y1="264.25" x2="638.05" y2="266.35" stroke="#222" stroke-width="0.7"/>
<line x1="637.14" y1="264.78" x2="638.96" y2="265.82" stroke="#222" stroke-width="0.7"/>
<line x1="638.96" y1="264.78" x2="637.14" y2="265.82" stroke="#222" stroke-width="0.7"/>
<line x1="640.75" y1="264.25" x2="640.75" y2="266.35" stroke="#222" stroke-width="0.7"/>
<line x1="639.84" y1="264.78" x2="641.66" y2="265.82" stroke="#222" stroke-width="0.7"/>
<line x1="641.66" y1="264.78" x2="639.84" y2="265.82" stroke="#222" stroke-width="0.7"/>
<rect x="646.00" y="237.10" width="4.50" height="4.50" fill="none" stroke="#4a8fe0" stroke-width="1.2"/>
<rect x="646.00" y="245.50" width="4.50" height="4.50" fill="none" stroke="#e0393e" stroke-width="1.2"/>
<text x="654.10" y="241.30" font-size="6.6" font-weight="bold" text-anchor="start" fill="#111" textLength="9.50" lengthAdjust="spacingAndGlyphs" stroke="#111" stroke-width="0.18">HC</text>
<text x="654.10" y="249.70" font-size="6.6" font-weight="bold" text-anchor="start" fill="#111" textLength="13.20" lengthAdjust="spacingAndGlyphs" stroke="#111" stroke-width="0.18">PTC</text>
<text x="506.70" y="370.10" font-size="5.2" font-weight="bold" text-anchor="end" fill="#111" textLength="27.00" lengthAdjust="spacingAndGlyphs" transform="rotate(-45 506.70 370.10)" stroke="#111" stroke-width="0.05">Sarcosine</text>
<text x="539.60" y="370.10" font-size="5.2" font-weight="bold" text-anchor="end" fill="#111" textLength="22.70" lengthAdjust="spacingAndGlyphs" transform="rotate(-45 539.60 370.10)" stroke="#111" stroke-width="0.05">L-serine</text>
<text x="571.30" y="370.10" font-size="5.2" font-weight="bold" text-anchor="end" fill="#111" textLength="30.30" lengthAdjust="spacingAndGlyphs" transform="rotate(-45 571.30 370.10)" stroke="#111" stroke-width="0.05">L-threonine</text>
<text x="604.00" y="370.10" font-size="5.2" font-weight="bold" text-anchor="end" fill="#111" textLength="23.70" lengthAdjust="spacingAndGlyphs" transform="rotate(-45 604.00 370.10)" stroke="#111" stroke-width="0.05">Creatine</text>
<text x="636.00" y="370.10" font-size="5.2" font-weight="bold" text-anchor="end" fill="#111" textLength="54.80" lengthAdjust="spacingAndGlyphs" transform="rotate(-45 636.00 370.10)" stroke="#111" stroke-width="0.05">5-Aminolevulinic acid</text>
<text x="471.90" y="297.40" font-size="6.5" font-weight="bold" text-anchor="middle" fill="#111" textLength="71.80" lengthAdjust="spacingAndGlyphs" transform="rotate(-90 471.90 297.40)" stroke="#111" stroke-width="0.18">Relative concentration</text>
<text x="478.40" y="296.75" font-size="6.5" font-weight="bold" text-anchor="middle" fill="#111" textLength="41.10" lengthAdjust="spacingAndGlyphs" transform="rotate(-90 478.40 296.75)" stroke="#111" stroke-width="0.18">(fold change)</text>
</svg></body></html>
